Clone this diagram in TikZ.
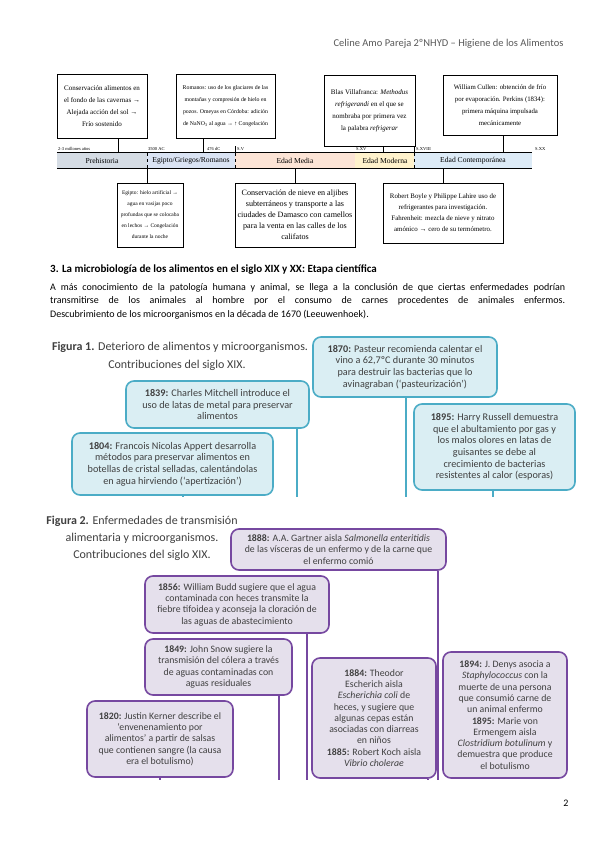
\documentclass[tikz,border=0pt]{standalone}
\usepackage{fontspec}
\setmainfont{Carlito}
\newfontfamily\tlfont{Liberation Serif}
\usetikzlibrary{positioning}
\definecolor{grayText}{RGB}{64,64,64}
\definecolor{headGray}{RGB}{89,89,89}
\definecolor{preh}{RGB}{213,220,228}
\definecolor{egip}{RGB}{218,227,243}
\definecolor{media}{RGB}{252,228,214}
\definecolor{moder}{RGB}{255,242,204}
\definecolor{contem}{RGB}{221,235,247}
\definecolor{blueLine}{RGB}{75,172,198}
\definecolor{blueFill}{RGB}{218,238,243}
\definecolor{purpleLine}{RGB}{118,72,160}
\definecolor{purpleFill}{RGB}{229,224,236}
\tikzset{
tlbox/.style={draw, line width=0.7pt, fill=white, align=center, inner sep=1pt},
bandlab/.style={inner sep=0pt, font=\tlfont\fontsize{7.6}{8}\selectfont},
ticklab/.style={anchor=west, inner sep=0pt, font=\tlfont\fontsize{4.5}{5}\selectfont},
caption/.style={inner sep=0pt, text=grayText, font=\fontsize{12}{14}\selectfont},
bluebox/.style={draw=blueLine, fill=blueFill, line width=1.6pt, rounded corners=8pt, align=center, text=grayText, inner sep=2pt, font=\fontsize{10.2}{11.7}\selectfont},
purplebox/.style={bluebox, draw=purpleLine, fill=purpleFill, font=\fontsize{9.8}{11.3}\selectfont},
blueline/.style={blueLine, line width=1.6pt},
purpleline/.style={purpleLine, line width=1.6pt}
}
\begin{document}
\begin{tikzpicture}[x=1pt,y=-1pt]
\useasboundingbox[fill=white] (0,0) rectangle (599,848);
\node[anchor=east, text=headGray, font=\fontsize{10.5}{12}\selectfont] (header) at (567,44) {Celine Amo Pareja 2ºNHYD – Higiene de los Alimentos};

\foreach \xa/\xb/\col in {57/147/preh,147/235/egip,235/355/media,355/414/moder,414/532/contem}
{
\fill[\col] (\xa,153) rectangle (\xb,168);
}
\node[inner sep=0pt, minimum width=475pt, minimum height=15pt] (band) at (294.5,160.5) {};
\draw[line width=0.7pt] (band.north west) -- (band.north east);
\draw[line width=0.7pt] (band.south west) -- (band.south east);
\foreach \x in {147,235,414}
{
\draw[dashed, line width=0.5pt] (\x,153) -- (\x,168);
}
\foreach \x in {235,414}
{
\draw[line width=0.5pt] (\x,146) -- (\x,153);
}
\node[bandlab] (lpreh) at (102,160.5) {Prehistoria};
\node[bandlab] (legip) at (191,160.5) {Egipto/Griegos/Romanos};
\node[bandlab] (lmedia) at (295,160.5) {Edad Media};
\node[bandlab] (lmoder) at (385,160.5) {Edad Moderna};
\node[bandlab] (lcontem) at (473,160.5) {Edad Contemporánea};
\node[ticklab] (t1) at (58,149) {2-3 millones años};
\node[ticklab] (t2) at (148,149) {3500 AC};
\node[ticklab] (t3) at (207,149) {476 dC};
\node[ticklab] (t4) at (237,149) {S.V};
\node[ticklab] (t5) at (356,149) {S.XV};
\node[ticklab] (t6) at (416,149) {S.XVIII};
\node[ticklab] (t7) at (535,149) {S.XX};

\node[tlbox, minimum width=90pt, minimum height=64pt, font=\tlfont\fontsize{7}{12}\selectfont] (tl1) at (102,106) {Conservación alimentos en\\el fondo de las cavernas →\\Alejada acción del sol →\\Frío sostenido};
\node[tlbox, minimum width=99pt, minimum height=64pt, font=\tlfont\fontsize{5.8}{12}\selectfont] (tl2) at (225.5,106) {Romanos: uso de los glaciares de las\\montañas y compresión de hielo en\\pozos. Omeyas en Córdoba: adición\\de NaNO\textsubscript{3} al agua → ↑ Congelación};
\node[tlbox, minimum width=91pt, minimum height=71pt, font=\tlfont\fontsize{7}{12}\selectfont] (tl3) at (369.5,110.5) {Blas Villafranca: \textit{Methodus}\\\textit{refrigerandi} en el que se\\nombraba por primera vez\\la palabra \textit{refrigerar}};
\node[tlbox, minimum width=114pt, minimum height=60pt, font=\tlfont\fontsize{6.8}{12}\selectfont] (tl4) at (500,105) {William Cullen: obtención de frío\\por evaporación. Perkins (1834):\\primera máquina impulsada\\mecánicamente};
\node[tlbox, minimum width=66pt, minimum height=64pt, font=\tlfont\fontsize{5.5}{11}\selectfont] (tl5) at (150,215) {Egipto: hielo artificial →\\agua en vasijas poco\\profundas que se colocaba\\en lechos → Congelación\\durante la noche};
\node[tlbox, minimum width=120pt, minimum height=64pt, font=\tlfont\fontsize{8.1}{11}\selectfont] (tl6) at (295,215) {Conservación de nieve en aljibes\\subterráneos y transporte a las\\ciudades de Damasco con camellos\\para la venta en las calles de los\\califatos};
\node[tlbox, minimum width=120pt, minimum height=60pt, font=\tlfont\fontsize{6.9}{11}\selectfont] (tl7) at (443,213) {Robert Boyle y Philippe Lahire uso de\\refrigerantes para investigación.\\Fahrenheit: mezcla de nieve y nitrato\\amónico → cero de su termómetro.};
\foreach \n/\x in {1/118,2/203,3/383,4/503}
{
\coordinate (k\n) at (\x,153);
\draw[line width=0.6pt] (tl\n.south -| k\n) -- (k\n);
}
\foreach \n/\x in {5/147,6/295,7/443}
{
\coordinate (k\n) at (\x,168);
\draw[line width=0.6pt] (k\n) -- (k\n |- tl\n.north);
}

\node[anchor=west, inner sep=0pt, font=\bfseries\fontsize{11}{13}\selectfont] (head) at (50,270) {3. La microbiología de los alimentos en el siglo XIX y XX: Etapa científica};
\node[anchor=north west, text width=515pt, align=justify, inner sep=0pt, font=\fontsize{10}{13.5}\selectfont] (para) at (50,283) {A más conocimiento de la patología humana y animal, se llega a la conclusión de que ciertas enfermedades podrían\linebreak transmitirse de los animales al hombre por el consumo de carnes procedentes de animales enfermos.\linebreak Descubrimiento de los microorganismos en la década de 1670 (Leeuwenhoek).};

\node[caption] (cap1a) at (180,347) {\textbf{Figura 1.} Deterioro de alimentos y microorganismos.};
\node[caption] (cap1b) at (177,365) {Contribuciones del siglo XIX.};
\node[bluebox, minimum width=184pt, minimum height=60pt] (b1870) at (405,367) {\textbf{1870:} Pasteur recomienda calentar el\\vino a 62,7ºC durante 30 minutos\\para destruir las bacterias que lo\\avinagraban (‘pasteurización’)};
\node[bluebox, minimum width=183pt, minimum height=47pt] (b1839) at (217.5,404.5) {\textbf{1839:} Charles Mitchell introduce el\\uso de latas de metal para preservar\\alimentos};
\node[bluebox, minimum width=201pt, minimum height=62pt] (b1804) at (172.5,464) {\textbf{1804:} Francois Nicolas Appert desarrolla\\métodos para preservar alimentos en\\botellas de cristal selladas, calentándolas\\en agua hirviendo (‘apertización’)};
\node[bluebox, minimum width=161pt, minimum height=86pt] (b1895) at (494.5,447) {\textbf{1895:} Harry Russell demuestra\\que el abultamiento por gas y\\los malos olores en latas de\\guisantes se debe al\\crecimiento de bacterias\\resistentes al calor (esporas)};
\foreach \n/\x in {1839/297,1804/183,1870/406,1895/493}
{
\coordinate (e\n) at (\x,497);
\draw[blueline] (b\n.south -| e\n) -- (e\n);
}

\node[caption] (cap2a) at (142,521) {\textbf{Figura 2.} Enfermedades de transmisión};
\node[caption] (cap2b) at (142,538) {alimentaria y microorganismos.};
\node[caption] (cap2c) at (142,555) {Contribuciones del siglo XIX.};
\node[purplebox, minimum width=215pt, minimum height=41pt] (b1888) at (338.5,549.5) {\textbf{1888:} A.A. Gartner aisla \textit{Salmonella enteritidis}\\de las vísceras de un enfermo y de la carne que\\el enfermo comió};
\node[purplebox, minimum width=184pt, minimum height=57pt] (b1856) at (237,604.5) {\textbf{1856:} William Budd sugiere que el agua\\contaminada con heces transmite la\\fiebre tifoidea y aconseja la cloración de\\las aguas de abastecimiento};
\node[purplebox, minimum width=147pt, minimum height=56pt] (b1849) at (218.5,667) {\textbf{1849:} John Snow sugiere la\\transmisión del cólera a través\\de aguas contaminadas con\\aguas residuales};
\node[purplebox, minimum width=146pt, minimum height=76pt] (b1820) at (160,739) {\textbf{1820:} Justin Kerner describe el\\‘envenenamiento por\\alimentos’ a partir de salsas\\que contienen sangre (la causa\\era el botulismo)};
\node[purplebox, minimum width=124pt, minimum height=120pt] (b1884) at (374,718) {\textbf{1884:} Theodor\\Escherich aisla\\\textit{Escherichia coli} de\\heces, y sugiere que\\algunas cepas están\\asociadas con diarreas\\en niños\\\textbf{1885:} Robert Koch aisla\\\textit{Vibrio cholerae}};
\node[purplebox, minimum width=124pt, minimum height=126pt] (b1894) at (505,715) {\textbf{1894:} J. Denys asocia a\\\textit{Staphylococcus} con la\\muerte de una persona\\que consumió carne de\\un animal enfermo\\\textbf{1895:} Marie von\\Ermengem aisla\\\textit{Clostridium botulinum} y\\demuestra que produce\\el botulismo};
\foreach \n/\x in {1888/438,1856/307,1849/279,1820/160,1884/428}
{
\coordinate (e\n) at (\x,780);
\draw[purpleline] (b\n.south -| e\n) -- (e\n);
}

\node[font=\fontsize{10}{12}\selectfont] (pnum) at (566,803) {2};
\end{tikzpicture}
\end{document}
